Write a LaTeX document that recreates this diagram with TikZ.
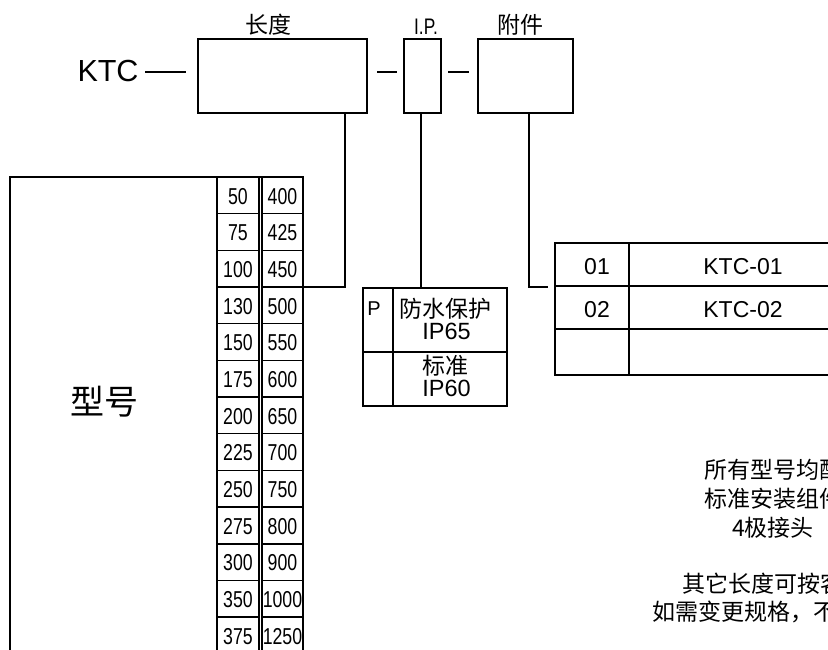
\documentclass[tikz,border=0pt]{standalone}
\usepackage{fontspec}
\setmainfont{Liberation Sans}
\newfontfamily\cjk{Noto Sans CJK SC}
\newfontfamily\narrowf[FakeStretch=0.77]{Liberation Sans}
\begin{document}
\begin{tikzpicture}[x=1pt,y=-1pt,line width=2pt,
  box/.style={draw,line width=2pt,inner sep=0pt,outer sep=0pt},
  cell/.style={inner sep=0pt,font=\narrowf\fontsize{23}{26}\selectfont},
  toplab/.style={inner sep=0pt,font=\cjk\fontsize{23}{26}\selectfont},
  iptxt/.style={inner sep=0pt,font=\fontsize{23.5}{26}\selectfont},
  ipcjk/.style={inner sep=0pt,font=\cjk\fontsize{23}{26}\selectfont},
  tabtxt/.style={inner sep=0pt,font=\fontsize{23}{26}\selectfont},
  note/.style={inner sep=0pt,font=\cjk\fontsize{23}{26}\selectfont},
  rowline/.style={line width=1.6pt}]
\useasboundingbox (0,0) rectangle (828,650);
\fill[white] (0,0) rectangle (828,650);
\clip (0,0) rectangle (828,650);

% top code boxes
\node[inner sep=0pt,font=\fontsize{30.5}{34}\selectfont] (ktc) at (108,71) {KTC};
\node[box,minimum width=169,minimum height=74] (len) at (282.5,76) {};
\node[box,minimum width=37,minimum height=74] (ipb) at (422.5,76) {};
\node[box,minimum width=95,minimum height=74] (acc) at (525.5,76) {};
\node[toplab] (lenlab) at (268,25) {长度};
\node[inner sep=0pt,font=\narrowf\fontsize{22.5}{24}\selectfont] (iplab) at (426,27) {I.P.};
\node[toplab] (acclab) at (520,25) {附件};

\coordinate (k1) at (145,72); \coordinate (k2) at (186,72);
\coordinate (d1a) at (377,72); \coordinate (d1b) at (397,72);
\coordinate (d2a) at (448,72); \coordinate (d2b) at (469,72);
\draw (k1) -- (k2);
\draw (d1a) -- (d1b);
\draw (d2a) -- (d2b);

% left table
\node[box,minimum width=207,minimum height=520,anchor=north west] (model) at (10,177) {};
\node[box,minimum width=42,minimum height=520,anchor=north west] (colA) at (217,177) {};
\node[box,minimum width=41,minimum height=520,anchor=north west] (colB) at (262,177) {};
\draw (217,177) -- (262,177);
\node[inner sep=0pt,font=\cjk\fontsize{34}{38}\selectfont] (xh) at (104.5,402) {型号};
\foreach \i in {1,...,12} {
  \draw[rowline] (217,177+36.67*\i) -- (259,177+36.67*\i);
  \draw[rowline] (262,177+36.67*\i) -- (303,177+36.67*\i);
}
\foreach \a/\b [count=\i from 0] in {50/400,75/425,100/450,130/500,150/550,175/600,200/650,225/700,250/750,275/800,300/900,350/1000,375/1250} {
  \node[cell] (a\i) at (238,196.3+36.67*\i) {\a};
  \node[cell] (b\i) at (282.5,196.3+36.67*\i) {\b};
}

% IP table
\node[box,minimum width=144,minimum height=118,anchor=north west] (iptab) at (362.5,288) {};
\draw (393,288) -- (393,406);
\draw (362.5,352) -- (506.5,352);
\node[inner sep=0pt,font=\fontsize{20}{22}\selectfont] (pp) at (374,308.5) {P};
\node[ipcjk] (fs) at (445,309) {防水保护};
\node[iptxt] (ip65) at (446.5,331.5) {IP65};
\node[ipcjk] (bz) at (445,366) {标准};
\node[iptxt] (ip60) at (446.5,388.5) {IP60};

% accessory table
\node[box,minimum width=302,minimum height=132,anchor=north west] (acctab) at (555,243) {};
\draw (555,286) -- (857,286);
\draw (555,329) -- (857,329);
\draw (629,243) -- (629,375);
\node[tabtxt] (c01) at (597,267) {01};
\node[tabtxt] (k01) at (743,267) {KTC-01};
\node[tabtxt] (c02) at (597,310) {02};
\node[tabtxt] (k02) at (743,310) {KTC-02};

% connectors
\coordinate (lenout) at (345,113); \coordinate (lenin) at (303,287);
\draw (lenout) |- (lenin);
\coordinate (ipout) at (421,113); \coordinate (ipin) at (421,288);
\draw (ipout) -- (ipin);
\coordinate (accout) at (529,113); \coordinate (accin) at (548,287);
\draw (accout) |- (accin);

% notes
\node[note] (n1) at (773,470) {所有型号均配};
\node[note] (n2) at (773,499) {标准安装组件};
\node[note] (n3) at (773,528) {4极接头};
\node[note,anchor=west] (n4) at (681,584) {其它长度可按客户要求定制};
\node[note,anchor=west] (n5) at (651,612) {如需变更规格，不另行通知};
\end{tikzpicture}
\end{document}
